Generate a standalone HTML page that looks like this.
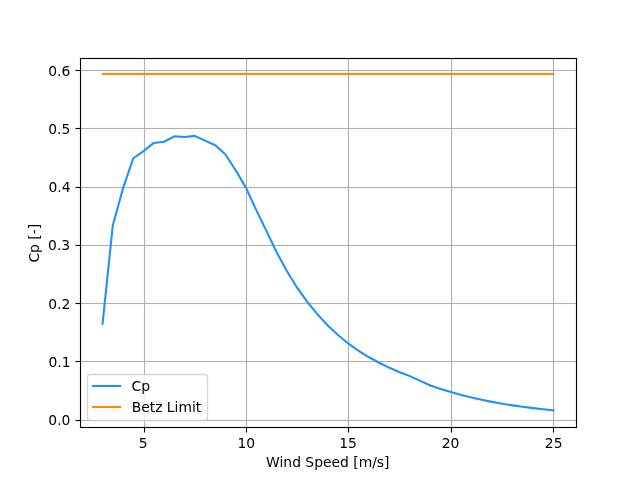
<!DOCTYPE html>
<html><head><meta charset="utf-8"><title>Cp vs Wind Speed</title>
<style>html,body{margin:0;padding:0;background:#fff;width:640px;height:480px;overflow:hidden}svg{display:block;will-change:transform}</style>
</head><body>
<svg width="640" height="480" viewBox="0 0 640 480">
<rect x="0" y="0" width="640" height="480" fill="#ffffff"/>
<defs><clipPath id="ax"><rect x="80.0" y="57.6" width="496.0" height="369.59999999999997"/></clipPath></defs>
<g fill="#b0b0b0" clip-path="url(#ax)"><rect x="143.944" y="57.944" width="1.111" height="370.111"/><rect x="245.944" y="57.944" width="1.111" height="370.111"/><rect x="347.944" y="57.944" width="1.111" height="370.111"/><rect x="450.944" y="57.944" width="1.111" height="370.111"/><rect x="552.944" y="57.944" width="1.111" height="370.111"/><rect x="79.944" y="419.944" width="497.111" height="1.111"/><rect x="79.944" y="360.944" width="497.111" height="1.111"/><rect x="79.944" y="302.944" width="497.111" height="1.111"/><rect x="79.944" y="244.944" width="497.111" height="1.111"/><rect x="79.944" y="186.944" width="497.111" height="1.111"/><rect x="79.944" y="127.944" width="497.111" height="1.111"/><rect x="79.944" y="69.944" width="497.111" height="1.111"/></g>
<path d="M102.545 323.745 L112.793 225.486 L123.041 188.165 L133.289 158.242 L143.537 151.161 L153.785 142.930 L164.033 141.772 L174.281 136.332 L184.529 137.040 L194.777 135.874 L205.025 140.589 L215.273 145.229 L225.521 154.551 L235.769 170.513 L246.017 187.873 L256.264 210.116 L266.512 231.084 L276.760 252.494 L287.008 271.238 L297.256 287.938 L307.504 302.118 L317.752 314.634 L328.000 325.745 L338.248 335.270 L348.496 343.697 L358.744 350.987 L368.992 357.277 L379.240 362.786 L389.488 367.815 L399.736 372.251 L409.983 376.111 L420.231 380.884 L430.479 385.441 L440.727 388.901 L450.975 392.112 L461.223 394.980 L471.471 397.543 L481.719 399.834 L491.967 401.882 L502.215 403.714 L512.463 405.352 L522.711 406.819 L532.959 408.131 L543.207 409.307 L553.455 410.400" fill="none" stroke="#1e90ff" stroke-width="2.0833" stroke-linecap="square" stroke-linejoin="round" clip-path="url(#ax)"/>
<g fill="#ff8c00"><rect x="101.958" y="72.958" width="452.083" height="2.083"/></g>
<g fill="#000"><rect x="79.944" y="57.944" width="1.111" height="370.111"/><rect x="575.944" y="57.944" width="1.111" height="370.111"/><rect x="79.944" y="426.944" width="497.111" height="1.111"/><rect x="79.944" y="57.944" width="497.111" height="1.111"/></g>
<g fill="#000"><rect x="143.944" y="427.500" width="1.111" height="5.000"/><rect x="245.944" y="427.500" width="1.111" height="5.000"/><rect x="347.944" y="427.500" width="1.111" height="5.000"/><rect x="450.944" y="427.500" width="1.111" height="5.000"/><rect x="552.944" y="427.500" width="1.111" height="5.000"/><rect x="75.500" y="419.944" width="5.000" height="1.111"/><rect x="75.500" y="360.944" width="5.000" height="1.111"/><rect x="75.500" y="302.944" width="5.000" height="1.111"/><rect x="75.500" y="244.944" width="5.000" height="1.111"/><rect x="75.500" y="186.944" width="5.000" height="1.111"/><rect x="75.500" y="127.944" width="5.000" height="1.111"/><rect x="75.500" y="69.944" width="5.000" height="1.111"/></g>
<g style="font-family:'DejaVu Sans',sans-serif;font-size:13.8889px;-webkit-font-smoothing:antialiased" fill="#000">
<text x="143.14" y="448.00" text-anchor="middle">5</text>
<text x="246.21" y="448.00" text-anchor="middle">10</text>
<text x="348.12" y="448.00" text-anchor="middle">15</text>
<text x="450.56" y="448.00" text-anchor="middle">20</text>
<text x="553.66" y="448.00" text-anchor="middle">25</text>
<text x="70.40" y="425.00" text-anchor="end">0.0</text>
<text x="70.54" y="367.00" text-anchor="end">0.1</text>
<text x="70.35" y="309.00" text-anchor="end">0.2</text>
<text x="70.20" y="250.00" text-anchor="end">0.3</text>
<text x="70.63" y="192.00" text-anchor="end">0.4</text>
<text x="70.38" y="134.00" text-anchor="end">0.5</text>
<text x="70.25" y="76.00" text-anchor="end">0.6</text>
<text x="327.80" y="467.00" text-anchor="middle">Wind Speed [m/s]</text>
<text x="0" y="0" text-anchor="middle" transform="translate(38.75 243.20) rotate(-90)">Cp [-]</text>
</g>
<rect x="87.500" y="374.500" width="120.000" height="46.000" rx="2.778" ry="2.778" fill="#ffffff" fill-opacity="0.8" stroke="#cccccc" stroke-opacity="0.8" stroke-width="1.3889"/>
<g fill="#1e90ff"><rect x="91.958" y="384.958" width="29.083" height="2.083"/></g>
<g fill="#ff8c00"><rect x="91.958" y="405.958" width="29.083" height="2.083"/></g>
<g style="font-family:'DejaVu Sans',sans-serif;font-size:13.8889px;-webkit-font-smoothing:antialiased" fill="#000">
<text x="131.61" y="391.00" text-anchor="start">Cp</text>
<text x="131.65" y="412.00" text-anchor="start">Betz Limit</text>
</g>
</svg>
</body></html>
